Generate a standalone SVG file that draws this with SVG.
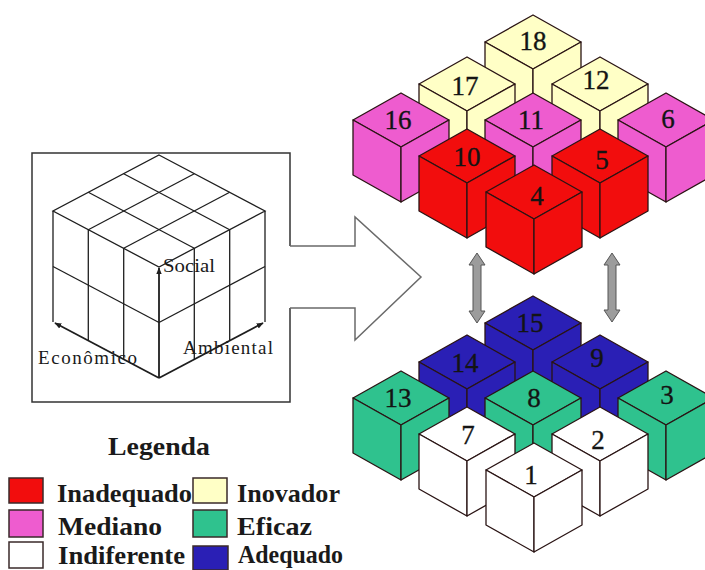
<svg xmlns="http://www.w3.org/2000/svg" xmlns:xlink="http://www.w3.org/1999/xlink" width="705" height="570" viewBox="0 0 705 570">
<style>
  .face { stroke: #2a1414; stroke-width: 1.3; stroke-linejoin: round; }
  .red { fill: #f20d0d; }
  .pink { fill: #ee5ccf; }
  .yellow { fill: #ffffc6; }
  .green { fill: #2fc28e; }
  .blue { fill: #2a1fb5; }
  .white { fill: #ffffff; }
  .num { font-family: "Liberation Serif", "Times New Roman", serif; font-size: 27px; text-anchor: middle; fill: #141414; stroke: #141414; stroke-width: 0.35; }
  .wire { fill: none; stroke: #1e1e1e; stroke-width: 1.3; }
  .axis { fill: none; stroke: #1e1e1e; stroke-width: 1.8; }
  .axlabel { font-family: "Liberation Serif", "Times New Roman", serif; font-size: 19px; fill: #1a1a1a; }
  .frame { fill: none; stroke: #333333; stroke-width: 1.5; }
  .bigarrow { fill: none; stroke: #6a6a6a; stroke-width: 1.5; stroke-linejoin: miter; }
  .dbl { fill: #9c9c9c; stroke: #555555; stroke-width: 1; }
  .sw { stroke: #3a2a2a; stroke-width: 1.5; }
  .leg { font-family: "Liberation Serif", "Times New Roman", serif; font-size: 26px; font-weight: bold; fill: #1a1a1a; }
</style>
<defs>
  <g id="cube">
    <polygon class="face" points="0,-109 48,-82 0,-55 -48,-82"/>
    <polygon class="face" points="-48,-82 0,-55 0,0 -48,-27"/>
    <polygon class="face" points="0,-55 48,-82 48,-27 0,0"/>
  </g>
  <marker id="ah" viewBox="0 0 10 10" refX="9" refY="5" markerWidth="7" markerHeight="7" orient="auto" markerUnits="userSpaceOnUse">
    <path d="M0,1 L10,5 L0,9 Z" fill="#1e1e1e"/>
  </marker>
</defs>
<rect width="705" height="570" fill="#ffffff"/>

<!-- Left model box -->
<g id="model-box">
  <path class="frame" d="M290,246 V153 H32 V402 H290 V308"/>
  <g id="wire-cube">
    <polygon class="wire" points="159,155 265,211 159,267 53,211"/>
    <line class="wire" x1="194.3" y1="173.7" x2="88.3" y2="229.7"/>
    <line class="wire" x1="229.7" y1="192.3" x2="123.7" y2="248.3"/>
    <line class="wire" x1="123.7" y1="173.7" x2="229.7" y2="229.7"/>
    <line class="wire" x1="88.3" y1="192.3" x2="194.3" y2="248.3"/>
    <line class="wire" x1="53" y1="211" x2="53" y2="322"/>
    <line class="wire" x1="265" y1="211" x2="265" y2="322"/>
    <line class="wire" x1="88.3" y1="229.7" x2="88.3" y2="340.7"/>
    <line class="wire" x1="123.7" y1="248.3" x2="123.7" y2="359.3"/>
    <line class="wire" x1="194.3" y1="248.3" x2="194.3" y2="359.3"/>
    <line class="wire" x1="229.7" y1="229.7" x2="229.7" y2="340.7"/>
    <line class="wire" x1="53" y1="266.5" x2="159" y2="322.5"/>
    <line class="wire" x1="159" y1="322.5" x2="265" y2="266.5"/>
    <line class="axis" x1="159" y1="378" x2="159" y2="268" marker-end="url(#ah)"/>
    <line class="axis" x1="159" y1="378" x2="55" y2="323" marker-end="url(#ah)"/>
    <line class="axis" x1="159" y1="378" x2="263" y2="323" marker-end="url(#ah)"/>
  </g>
  <text class="axlabel" x="163" y="272" textLength="52" lengthAdjust="spacingAndGlyphs">Social</text>
  <text class="axlabel" x="38" y="364" textLength="99" lengthAdjust="spacing">Econômico</text>
  <text class="axlabel" x="183" y="354" textLength="90" lengthAdjust="spacing">Ambiental</text>
</g>

<!-- Connectors -->
<g id="connectors">
  <polyline class="bigarrow" points="290,246 355,246 355,217 421,277 355,340 355,308 290,308"/>
  <polygon class="dbl" points="477,253 485,265 481,265 481,311 485,311 477,323 469,311 473,311 473,265 469,265"/>
  <polygon class="dbl" points="612,253 620,265 616,265 616,310 620,310 612,322 604,310 608,310 608,265 604,265"/>
</g>

<!-- Upper block -->
<g id="cube-18"><use href="#cube" xlink:href="#cube" class="yellow" transform="translate(533,124)"/><text class="num" x="533" y="50">18</text></g>
<g id="cube-17"><use href="#cube" xlink:href="#cube" class="yellow" transform="translate(467,166)"/><text class="num" x="465" y="95">17</text></g>
<g id="cube-12"><use href="#cube" xlink:href="#cube" class="yellow" transform="translate(600,166)"/><text class="num" x="596" y="89">12</text></g>
<g id="cube-16"><use href="#cube" xlink:href="#cube" class="pink" transform="translate(401,202)"/><text class="num" x="398" y="129">16</text></g>
<g id="cube-11"><use href="#cube" xlink:href="#cube" class="pink" transform="translate(533,202)"/><text class="num" x="531" y="129">11</text></g>
<g id="cube-6"><use href="#cube" xlink:href="#cube" class="pink" transform="translate(666,202)"/><text class="num" x="668" y="128">6</text></g>
<g id="cube-10"><use href="#cube" xlink:href="#cube" class="red" transform="translate(467,238)"/><text class="num" x="467" y="166">10</text></g>
<g id="cube-5"><use href="#cube" xlink:href="#cube" class="red" transform="translate(600,238)"/><text class="num" x="602" y="169">5</text></g>
<g id="cube-4"><use href="#cube" xlink:href="#cube" class="red" transform="translate(534,274)"/><text class="num" x="537" y="205">4</text></g>

<!-- Lower block -->
<g id="cube-15"><use href="#cube" xlink:href="#cube" class="blue" transform="translate(533,405)"/><text class="num" x="530" y="332">15</text></g>
<g id="cube-14"><use href="#cube" xlink:href="#cube" class="blue" transform="translate(467,444)"/><text class="num" x="465" y="372">14</text></g>
<g id="cube-9"><use href="#cube" xlink:href="#cube" class="blue" transform="translate(600,444)"/><text class="num" x="597" y="367">9</text></g>
<g id="cube-13"><use href="#cube" xlink:href="#cube" class="green" transform="translate(401,480)"/><text class="num" x="398" y="407">13</text></g>
<g id="cube-8"><use href="#cube" xlink:href="#cube" class="green" transform="translate(533,480)"/><text class="num" x="534" y="407">8</text></g>
<g id="cube-3"><use href="#cube" xlink:href="#cube" class="green" transform="translate(666,480)"/><text class="num" x="667" y="404">3</text></g>
<g id="cube-7"><use href="#cube" xlink:href="#cube" class="white" transform="translate(467,516)"/><text class="num" x="468" y="444">7</text></g>
<g id="cube-2"><use href="#cube" xlink:href="#cube" class="white" transform="translate(600,516)"/><text class="num" x="598" y="449">2</text></g>
<g id="cube-1"><use href="#cube" xlink:href="#cube" class="white" transform="translate(534,552)"/><text class="num" x="531" y="484">1</text></g>

<!-- Legend -->
<g id="legend">
  <text class="leg" x="108" y="455" font-size="27" textLength="102" lengthAdjust="spacingAndGlyphs">Legenda</text>
  <g id="leg-inadequado"><rect class="sw red" x="9" y="478" width="34" height="25"/><text class="leg" x="57" y="502" textLength="135" lengthAdjust="spacingAndGlyphs">Inadequado</text></g>
  <g id="leg-mediano"><rect class="sw pink" x="9" y="510" width="34" height="27"/><text class="leg" x="58" y="535" textLength="104" lengthAdjust="spacingAndGlyphs">Mediano</text></g>
  <g id="leg-indiferente"><rect class="sw white" x="9" y="542" width="34" height="26"/><text class="leg" x="58" y="564" textLength="127" lengthAdjust="spacingAndGlyphs">Indiferente</text></g>
  <g id="leg-inovador"><rect class="sw yellow" x="193" y="478" width="34" height="25"/><text class="leg" x="237" y="502" textLength="103" lengthAdjust="spacingAndGlyphs">Inovador</text></g>
  <g id="leg-eficaz"><rect class="sw green" x="193" y="510" width="34" height="27"/><text class="leg" x="237" y="535" textLength="75" lengthAdjust="spacingAndGlyphs">Eficaz</text></g>
  <g id="leg-adequado"><rect class="sw blue" x="193" y="546" width="35" height="24"/><text class="leg" x="238" y="563" textLength="105" lengthAdjust="spacingAndGlyphs">Adequado</text></g>
</g>
</svg>
